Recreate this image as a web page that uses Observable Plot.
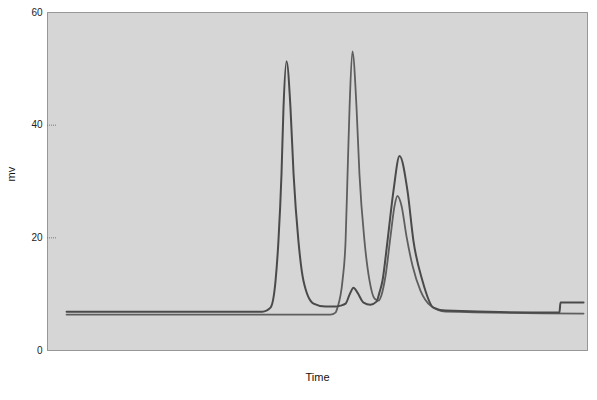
<!DOCTYPE html>
<html>
<head>
<meta charset="utf-8">
<script src="https://cdn.jsdelivr.net/npm/d3@7"></script>
<script src="https://cdn.jsdelivr.net/npm/@observablehq/plot@0.6"></script>
<style>
  html, body { margin: 0; padding: 0; background: #fff; }
  #chart svg { display: block; }
</style>
</head>
<body>
<div id="chart"></div>
<script>
// Trace A: first peak, small shoulder, tallest third-peak response, baseline step at end
const timeA = [1.06, 5.72, 11.28, 11.94, 12.39, 12.67, 12.83, 13.0, 13.11, 13.28, 13.5, 13.67, 13.94, 14.22, 14.78, 15.44, 16.0, 16.28, 16.56, 16.78, 17.0, 17.22, 17.56, 17.94, 18.28, 18.44, 18.61, 18.89, 19.22, 19.56, 20.0, 20.33, 20.83, 21.44, 22.11, 28.22, 28.44, 28.5, 29.78];
const mvA   = [6.9, 6.9, 6.9, 6.9, 7.61, 12.39, 19.47, 31.33, 43.01, 51.33, 43.01, 31.33, 19.47, 12.39, 8.32, 7.79, 7.79, 7.96, 8.32, 9.91, 11.15, 10.27, 8.5, 8.14, 8.67, 10.27, 12.39, 19.47, 28.32, 34.51, 28.32, 19.47, 12.39, 7.61, 7.08, 6.73, 6.73, 8.5, 8.5];

// Trace B: flat start, second peak, lower third peak
const timeB = [1.06, 15.72, 16.0, 16.11, 16.39, 16.56, 16.67, 16.78, 16.94, 17.17, 17.33, 17.61, 17.89, 18.17, 18.39, 18.56, 18.78, 19.06, 19.28, 19.44, 19.67, 19.94, 20.28, 20.72, 21.28, 22.11, 29.78];
const mvB   = [6.37, 6.37, 6.73, 7.61, 12.39, 19.47, 31.33, 43.01, 53.1, 43.01, 31.33, 19.47, 12.39, 9.2, 8.85, 9.91, 13.27, 20.35, 25.66, 27.43, 25.66, 20.35, 15.04, 10.62, 7.96, 6.9, 6.55];

const yTicks = [0, 20, 40, 60];

const dataA = timeA.map((t, i) => ({time: t, mv: mvA[i]}));
const dataB = timeB.map((t, i) => ({time: t, mv: mvB[i]}));

const chart = Plot.plot({
  width: 597,
  height: 400,
  marginLeft: 47,
  marginRight: 10,
  marginTop: 12,
  marginBottom: 50,
  style: {fontFamily: "Liberation Sans, Arial, sans-serif", fontSize: "10px", background: "#fff", color: "#222"},
  x: {domain: [0, 30], axis: null},
  y: {domain: [0, 60], ticks: yTicks, tickSize: 0, tickPadding: 5, label: null},
  marks: [
    Plot.frame({fill: "#d6d6d6", stroke: null}),
    Plot.frame({stroke: "#444", strokeDasharray: "1,1", strokeWidth: 1}),
    Plot.ruleY([20, 40], {x1: 0, x2: 0.5, stroke: "#777", strokeDasharray: "1,1"}),
    Plot.line(dataB, {x: "time", y: "mv", stroke: "#5e5e5e", strokeWidth: 1.8, curve: "monotone-x"}),
    Plot.line(dataA, {x: "time", y: "mv", stroke: "#4a4a4a", strokeWidth: 2, curve: "monotone-x"}),
    Plot.text(["Time"], {frameAnchor: "bottom", dy: 30, fontSize: 11, fill: "#111"}),
    Plot.text(["mv"], {frameAnchor: "left", dx: -36, rotate: -90, fontSize: 11, fill: "#111"})
  ]
});
document.getElementById("chart").appendChild(chart);
</script>
</body>
</html>
